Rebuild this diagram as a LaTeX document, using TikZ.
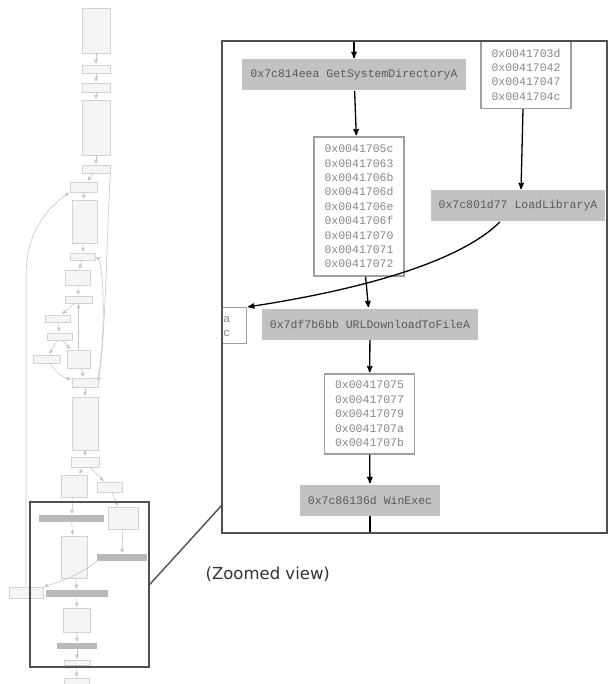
\documentclass[tikz,border=0pt]{standalone}
\usepackage{fontspec}
\setmonofont{Liberation Mono}
\newfontfamily\capfont{DejaVu Sans}
\usetikzlibrary{arrows,fit,shapes}

\definecolor{apifill}{HTML}{C2C2C2}
\definecolor{addrtext}{HTML}{888888}
\definecolor{apitext}{HTML}{5A5A5A}
\definecolor{framegray}{HTML}{505050}

\tikzstyle{addr} = [rectangle, draw=gray!75, line width=1.2pt, fill=white, text=addrtext,
    font=\ttfamily\fontsize{11.5}{14.4}\selectfont, align=left, inner xsep=10pt, minimum width=90pt]
\tikzstyle{api} = [rectangle, fill=apifill, text=apitext,
    font=\ttfamily\fontsize{11.5}{14.4}\selectfont, minimum height=31pt, inner xsep=8pt]
\tikzstyle{edge} = [black, line width=1.3pt]
\tikzstyle{mini} = [rectangle, draw=gray!35, fill=gray!8, inner sep=0pt, line width=0.6pt]
\tikzstyle{miniapi} = [rectangle, fill=gray!55, inner sep=0pt]
\tikzstyle{ov} = [gray!45, line width=0.6pt]
\tikzstyle{zoomline} = [framegray, line width=1.4pt]

\begin{document}
\begin{tikzpicture}[->,>=stealth',shorten >=1pt,semithick,x=1pt,y=-1pt]
  \useasboundingbox (0,0) rectangle (609,684);

  % overview of the whole graph
  \node[mini, fit={(82,8)(110,53)}]    (n1) {};
  \node[mini, fit={(82,65)(110,73)}]   (n2) {};
  \node[mini, fit={(82,83)(110,92)}]   (n3) {};
  \node[mini, fit={(82,100)(110,155)}] (n4) {};
  \node[mini, fit={(82,165)(110,173)}] (n5) {};
  \node[mini, fit={(70,182)(97,192)}]  (n6) {};
  \node[mini, fit={(72,200)(97,243)}]  (n7) {};
  \node[mini, fit={(70,253)(95,260)}]  (n8) {};
  \node[mini, fit={(65,270)(90,285)}]  (n9) {};
  \node[mini, fit={(65,296)(92,303)}]  (n10) {};
  \node[mini, fit={(45,315)(70,322)}]  (n11) {};
  \node[mini, fit={(47,333)(72,340)}]  (n12) {};
  \node[mini, fit={(33,355)(60,363)}]  (n13) {};
  \node[mini, fit={(67,350)(90,368)}]  (n14) {};
  \node[mini, fit={(72,378)(98,387)}]  (n15) {};
  \node[mini, fit={(72,397)(98,450)}]  (n16) {};
  \node[mini, fit={(71,457)(99,467)}]  (n17) {};
  \node[mini, fit={(61,475)(87,497)}]  (n18) {};
  \node[mini, fit={(97,482)(122,492)}] (n19) {};
  \node[miniapi, fit={(39,515)(104,522)}] (g1) {};
  \node[mini, fit={(61,536)(87,578)}]  (m1) {};
  \node[mini, fit={(108,507)(138,529)}] (r1) {};
  \node[miniapi, fit={(97,554)(147,561)}] (g2) {};
  \node[mini, fit={(9,587)(43,598)}]   (L) {};
  \node[miniapi, fit={(46,590)(108,597)}] (g3) {};
  \node[mini, fit={(63,608)(90,632)}]  (n20) {};
  \node[miniapi, fit={(57,643)(97,649)}] (g4) {};
  \node[mini, fit={(64,660)(90,665)}]  (n21) {};
  \node[mini, fit={(64,678)(89,686)}]  (n22) {};

  \path[ov] (n1) edge (n2) (n2) edge (n3) (n3) edge (n4) (n4) edge (n5)
    (n5) edge (n6) (n6) edge (n7) (n7) edge (n8) (n8) edge (n9) (n9) edge (n10)
    (n10) edge (n11) (n11) edge (n12) (n12) edge (n13) (n12) edge (n14)
    (n14) edge (n10) (n13) edge [bend right=20] (n15) (n14) edge (n15)
    (n15) edge (n16) (n16) edge (n17) (n17) edge (n18) (n17) edge (n19)
    (n18) edge (g1) (g1) edge (m1) (n19) edge (r1) (r1) edge (g2) (m1) edge (g3)
    (g3) edge (n20) (n20) edge (g4) (g4) edge (n21) (n21) edge (n22);
  \draw[ov] (n15.north east) .. controls (106,330) and (104,262) .. (n8.east);
  \draw[ov] (n5.south east) .. controls (106,250) and (106,330) .. (n15.east);
  \draw[ov] (g2.south west) .. controls (80,575) and (60,582) .. (L.north east);
  \draw[ov] (L.north) -- ++(0,-310) to[out=90,in=215] (n6.south west);

  \node[zoomline, draw, fit={(30,502)(149,667)}, inner sep=0pt] (ovframe) {};

  % zoomed view
  \coordinate (gin) at (354,41);
  \coordinate (gout) at (370,533);
  \begin{scope}
    \clip (222,41) rectangle (607,533);
    \node[api]  (getsys) at (354,75) {0x7c814eea GetSystemDirectoryA};
    \node[addr, minimum height=139pt] (blkA) at (359,206.5)
      {0x0041705c\\0x00417063\\0x0041706b\\0x0041706d\\0x0041706e\\0x0041706f\\0x00417070\\0x00417071\\0x00417072};
    \node[addr, minimum height=68pt] (blkB) at (526,74.5)
      {0x0041703d\\0x00417042\\0x00417047\\0x0041704c};
    \node[api]  (loadlib) at (518,206) {0x7c801d77 LoadLibraryA};
    \node[addr, anchor=north east, inner xsep=16pt, align=right, minimum height=36pt] (blkL) at (247,307)
      {0x0041701a\\0x0041701c};
    \node[api]  (urldl) at (370,324) {0x7df7b6bb URLDownloadToFileA};
    \node[addr, minimum height=80pt] (blkC) at (369.5,414)
      {0x00417075\\0x00417077\\0x00417079\\0x0041707a\\0x0041707b};
    \node[api]  (winexec) at (370,500) {0x7c86136d WinExec};

    \draw[edge] (gin) -- (getsys);
    \draw[edge] (getsys) -- (blkA);
    \draw[edge] ([xshift=-3]blkB.south) -- ([xshift=3]loadlib.north);
    \draw[edge] (blkA) -- (urldl);
    \draw[edge] ([xshift=-18]loadlib.south) .. controls (460,262) and (360,290) .. (blkL.north east);
    \draw[edge] (urldl) -- (blkC);
    \draw[edge] (blkC) -- (winexec);
    \draw[edge,-] (winexec) -- (gout);
  \end{scope}
  \node[zoomline, draw, fit={(222,41)(607,533)}, inner sep=0pt] (zoomframe) {};
  \coordinate (zin) at (222,505);
  \draw[zoomline,-,shorten >=0pt] (ovframe.east) -- (zin);

  \node[font=\capfont\fontsize{16.5}{19}\selectfont, text=black!80, anchor=west] (caption) at (202,574) {(Zoomed view)};
\end{tikzpicture}
\end{document}
